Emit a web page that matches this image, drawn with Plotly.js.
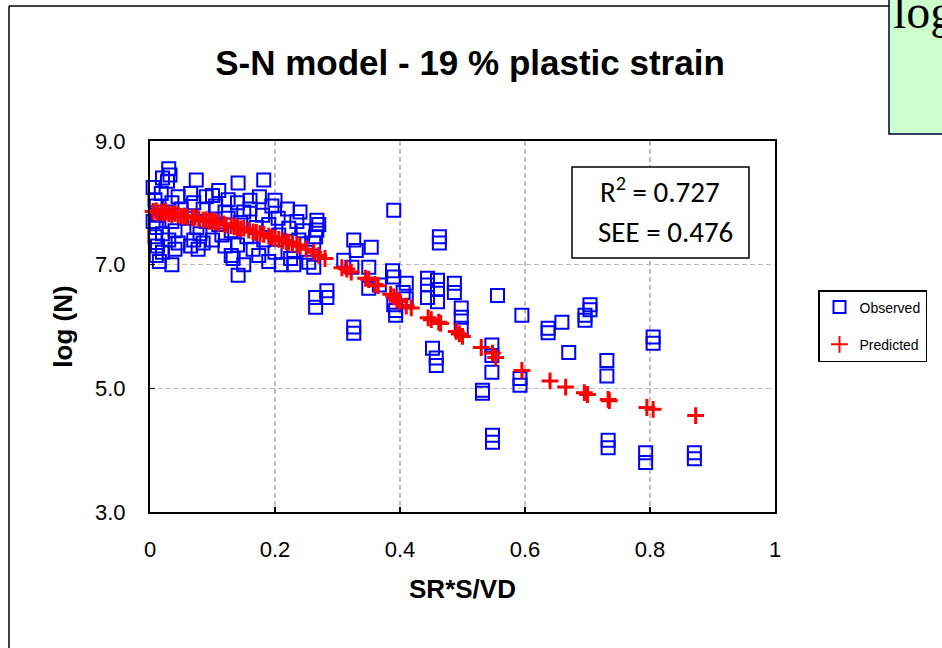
<!DOCTYPE html>
<html>
<head>
<meta charset="utf-8">
<script src="https://cdn.plot.ly/plotly-3.0.1.min.js"></script>
<style>html,body{margin:0;padding:0;background:#fff;}#chart{width:942px;height:648px;}</style>
</head>
<body>
<div id="chart"></div>
<script>
// ---- Data ----
const chartTitle = "S-N model - 19 % plastic strain";
const xTitle = "SR*S/VD";
const yTitle = "log (N)";
const seriesNames = ["Observed", "Predicted"];
const statsLines = ["R<sup>2</sup> = 0.727", "SEE = 0.476"];
const cornerText = "log";

const xTickVals = [0, 0.2, 0.4, 0.6, 0.8, 1];
const xTickText = ["0", "0.2", "0.4", "0.6", "0.8", "1"];
const yTickVals = [3, 5, 7, 9];
const yTickText = ["3.0", "5.0", "7.0", "9.0"];

const obsX = [
  0.005,0.008,0.010,0.012,0.010,0.008,0.012,0.010,0.015,0.005,0.020,0.018,0.020,0.020,
  0.030,0.032,0.028,0.035,0.030,0.035,0.030,0.035,0.040,0.045,0.050,0.045,0.040,
  0.074,0.065,0.070,0.060,0.075,0.070,0.077,0.085,0.090,0.080,0.065,0.090,0.085,
  0.100,0.110,0.105,0.120,0.110,0.115,0.125,0.120,0.130,0.100,0.130,0.125,
  0.141,0.140,0.150,0.145,0.140,0.133,0.141,0.160,0.155,0.165,0.150,0.170,0.160,
  0.182,0.175,0.180,0.174,0.182,0.190,0.200,0.206,0.195,0.200,0.210,0.205,0.190,
  0.222,0.230,0.230,0.240,0.238,0.220,0.235,0.225,0.245,0.250,
  0.254,0.262,0.267,0.267,0.265,0.262,0.265,0.265,0.283,0.283,0.270,
  0.310,0.323,0.326,0.330,0.354,0.350,0.350,0.367,0.390,0.388,0.390,0.393,0.393,0.410,0.326,0.326,0.390,0.405,0.410,
  0.444,0.444,0.444,0.460,0.460,0.460,0.463,0.463,0.487,0.487,0.498,0.498,0.498,0.556,0.452,0.458,0.458,
  0.595,0.637,0.637,0.659,0.696,0.696,0.704,0.704,0.670,0.731,0.731,0.547,0.547,0.547,0.592,0.592,0.532,0.532,
  0.548,0.548,0.733,0.733,0.805,0.805,0.793,0.793,0.871,0.871
];
const obsY = [
  8.25,8.05,7.95,7.80,7.60,7.45,7.30,7.15,7.05,7.70,8.40,8.15,7.50,7.20,
  8.55,8.45,8.35,8.00,7.85,7.70,7.40,7.00,7.55,8.10,7.90,7.35,7.25,
  8.37,8.15,8.00,7.75,7.60,7.40,7.25,7.90,7.70,7.50,7.30,8.10,7.35,
  8.12,8.20,7.95,7.85,7.65,7.48,8.05,7.30,7.55,7.40,7.15,7.75,
  8.32,8.00,7.85,7.68,7.32,7.10,6.83,8.04,7.45,7.25,7.00,7.60,7.90,
  8.37,8.10,7.80,7.15,7.40,7.65,8.04,7.48,7.95,7.20,7.00,7.75,7.05,
  7.59,7.23,7.00,7.85,7.40,7.90,7.70,7.10,7.55,7.20,
  7.04,7.35,7.72,7.56,7.45,6.96,6.47,6.31,6.58,6.47,7.65,
  7.07,6.96,7.40,7.23,7.28,6.96,6.62,6.67,7.88,6.90,6.80,6.26,6.18,6.70,5.99,5.89,6.35,6.55,6.45,
  6.78,6.67,6.47,6.75,6.60,6.40,7.45,7.35,6.70,6.55,6.30,6.15,5.97,6.50,5.65,5.49,5.37,
  6.18,5.97,5.90,6.07,6.18,6.10,6.35,6.27,5.58,5.45,5.20,5.70,5.53,5.26,5.16,5.05,4.97,4.92,
  4.24,4.13,4.16,4.04,5.83,5.73,3.96,3.80,3.96,3.86
];

const predX = [
  0.005,0.010,0.012,0.018,0.022,0.025,0.030,0.035,0.040,0.045,0.050,0.055,0.060,0.068,0.072,0.078,
  0.085,0.090,0.095,0.100,0.105,0.110,0.118,0.122,0.130,0.135,0.140,0.145,0.150,0.158,0.165,0.170,
  0.176,0.182,0.190,0.195,0.200,0.206,0.212,0.218,0.222,0.228,0.235,0.240,0.250,0.262,0.270,0.280,
  0.307,0.315,0.322,0.345,0.350,0.360,0.365,0.385,0.390,0.395,0.400,0.410,0.418,0.445,0.450,0.462,
  0.465,0.490,0.495,0.500,0.530,0.548,0.553,0.595,0.640,0.665,0.695,0.700,0.733,0.735,0.795,0.805,0.873
];
const predY = [
  7.86,7.87,7.84,7.85,7.83,7.86,7.82,7.81,7.83,7.80,7.78,7.79,7.77,7.76,7.77,7.74,
  7.72,7.73,7.70,7.71,7.69,7.67,7.66,7.64,7.63,7.61,7.60,7.58,7.59,7.56,7.53,7.52,
  7.50,7.49,7.46,7.44,7.43,7.41,7.39,7.37,7.36,7.34,7.32,7.30,7.25,7.20,7.15,7.10,
  6.95,6.93,6.88,6.78,6.76,6.68,6.66,6.52,6.48,6.43,6.40,6.33,6.30,6.14,6.11,6.07,
  6.05,5.92,5.88,5.84,5.66,5.57,5.50,5.29,5.12,5.02,4.93,4.90,4.82,4.80,4.69,4.66,4.56
];

// ---- Page geometry (pixels) ----
const W = 942, H = 648;
const M = {l: 150, r: 167, t: 141, b: 136};
const pw = W - M.l - M.r, ph = H - M.t - M.b;
const px = v => (v - M.l) / pw;          // page x px -> paper x
const py = v => (H - M.b - v) / ph;      // page y px -> paper y

const sans = "Arial, 'Liberation Sans', sans-serif";
const statsFont = "Carlito, 'Open Sans', sans-serif";

const traces = [
  {
    type: "scatter", mode: "markers", name: seriesNames[0],
    x: obsX, y: obsY, legendgroup: "a", cliponaxis: false,
    marker: {symbol: "square-open", size: 13, color: "#0000FF", line: {color: "#0000FF", width: 2}}
  },
  {
    type: "scatter", mode: "markers", name: seriesNames[1],
    x: predX, y: predY, legendgroup: "b", cliponaxis: false,
    marker: {symbol: "cross-thin-open", size: 12, color: "#FF0000", line: {color: "#FF0000", width: 3}}
  }
];

const axisCommon = {
  showline: true, mirror: true, linecolor: "#000", linewidth: 2,
  ticks: "inside", ticklen: 5, tickwidth: 1.5, tickcolor: "#000",
  showgrid: true, gridcolor: "#BFBFBF", gridwidth: 1.5, griddash: "5px,3px",
  zeroline: false, tickfont: {family: sans, size: 22, color: "#000"}
};

const layout = {
  width: W, height: H,
  margin: M,
  paper_bgcolor: "#fff", plot_bgcolor: "#fff",
  title: {text: chartTitle, font: {family: sans, size: 35, color: "#000", weight: "bold"},
          x: 470 / W, xref: "container", xanchor: "center", y: 1 - 63 / H, yref: "container", yanchor: "middle"},
  xaxis: Object.assign({}, axisCommon, {
    range: [0, 1], tickvals: xTickVals, ticktext: xTickText, ticklabelstandoff: 17,
    title: {text: xTitle, font: {family: sans, size: 26, color: "#000", weight: "bold"}, standoff: 18}
  }),
  yaxis: Object.assign({}, axisCommon, {
    range: [3, 9], tickvals: yTickVals, ticktext: yTickText, ticklabelstandoff: 18,
    title: {text: yTitle, font: {family: sans, size: 26, color: "#000", weight: "bold"}, standoff: 15}
  }),
  showlegend: true,
  legend: {
    x: px(818), y: py(290), xanchor: "left", yanchor: "top",
    bordercolor: "#000", borderwidth: 1.5, bgcolor: "#fff",
    font: {family: sans, size: 14, color: "#000"},
    traceorder: "grouped", tracegroupgap: 16, itemsizing: "constant"
  },
  shapes: [
    // outer chart frame (left + top edges visible)
    {type: "line", xref: "paper", yref: "paper", x0: px(9), x1: px(9), y0: py(6), y1: py(700), line: {color: "#000", width: 1.5}},
    {type: "line", xref: "paper", yref: "paper", x0: px(9), x1: px(890), y0: py(6), y1: py(6), line: {color: "#000", width: 1.5}},
    // green callout box at the top-right corner
    {type: "rect", xref: "paper", yref: "paper", x0: px(889), x1: px(980), y0: py(134), y1: py(-20),
     fillcolor: "#CCFFCC", line: {color: "#000033", width: 1.5}, layer: "above"},
    // statistics box
    {type: "rect", xref: "paper", yref: "paper", x0: px(572), x1: px(749), y0: py(258), y1: py(167),
     fillcolor: "#fff", line: {color: "#000", width: 1.5}, layer: "above"}
  ],
  annotations: [
    {xref: "paper", yref: "paper", x: px(660), y: py(190), xanchor: "center", yanchor: "middle",
     text: statsLines[0], showarrow: false, font: {family: statsFont, size: 29, color: "#000"}},
    {xref: "paper", yref: "paper", x: px(665), y: py(232), xanchor: "center", yanchor: "middle",
     text: statsLines[1], showarrow: false, font: {family: statsFont, size: 29, color: "#000"}},
    {xref: "paper", yref: "paper", x: px(891), y: py(11), xanchor: "left", yanchor: "middle",
     text: cornerText, showarrow: false, font: {family: "'Liberation Serif', 'Times New Roman', serif", size: 48, color: "#000"}}
  ]
};

Plotly.newPlot("chart", traces, layout, {displayModeBar: false, staticPlot: true});
</script>
</body>
</html>
